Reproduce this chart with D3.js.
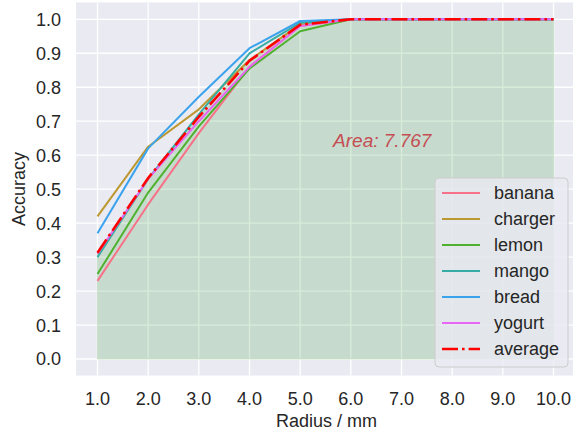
<!DOCTYPE html>
<html>
<head>
<meta charset="utf-8">
<script src="https://cdn.jsdelivr.net/npm/d3@7"></script>
<style>
  body { margin: 0; background: #ffffff; }
  svg { display: block; font-family: "Liberation Sans", Arial, sans-serif; }
</style>
</head>
<body>
<div id="chart"></div>
<script>
// values
const radius = [1, 2, 3, 4, 5, 6, 7, 8, 9, 10];
const banana  = [0.23, 0.455, 0.665, 0.86, 0.98, 1, 1, 1, 1, 1];
const charger = [0.42, 0.625, 0.735, 0.88, 0.985, 1, 1, 1, 1, 1];
const lemon   = [0.25, 0.49, 0.685, 0.855, 0.965, 1, 1, 1, 1, 1];
const mango   = [0.30, 0.53, 0.72, 0.90, 0.99, 1, 1, 1, 1, 1];
const bread   = [0.37, 0.62, 0.772, 0.915, 0.995, 1, 1, 1, 1, 1];
const yogurt  = [0.31, 0.53, 0.70, 0.86, 0.98, 1, 1, 1, 1, 1];
const average = [0.313, 0.533, 0.713, 0.878, 0.984, 1, 1, 1, 1, 1];
const seriesNames = ['banana', 'charger', 'lemon', 'mango', 'bread', 'yogurt'];
const seriesColors = ['#f77189', '#bb9832', '#50b131', '#36ada4', '#3ba3ec', '#e866f4'];
const xTicks = [1, 2, 3, 4, 5, 6, 7, 8, 9, 10];
const yTicks = [0, 0.1, 0.2, 0.3, 0.4, 0.5, 0.6, 0.7, 0.8, 0.9, 1.0];
const areaLabel = 'Area: 7.767';

const seriesValues = [banana, charger, lemon, mango, bread, yogurt];

const W = 573, H = 435;
const plot = {left: 76, right: 577, top: 2.5, bottom: 375.5};
const textColor = '#262626';
const fontSize = 18;

const svg = d3.select('#chart').append('svg')
    .attr('width', W)
    .attr('height', H);

const x = d3.scaleLinear().domain([1, 10]).range([97.5, 553.5]);
const y = d3.scaleLinear().domain([0, 1]).range([359, 19.3]);

// axes background
svg.append('rect')
    .attr('x', plot.left)
    .attr('y', plot.top)
    .attr('width', plot.right - plot.left)
    .attr('height', plot.bottom - plot.top)
    .attr('fill', '#eaeaf2');

// grid
const grid = svg.append('g').attr('stroke', '#ffffff').attr('stroke-width', 1.3);
grid.selectAll('.gx').data(xTicks).enter().append('line')
    .attr('x1', d => x(d)).attr('x2', d => x(d))
    .attr('y1', plot.top).attr('y2', plot.bottom);
grid.selectAll('.gy').data(yTicks).enter().append('line')
    .attr('x1', plot.left).attr('x2', plot.right)
    .attr('y1', d => y(d)).attr('y2', d => y(d));

// filled area under the average
const area = d3.area()
    .x((d, i) => x(radius[i]))
    .y0(y(0))
    .y1(d => y(d));
svg.append('path')
    .datum(average)
    .attr('d', area)
    .attr('fill', 'green')
    .attr('fill-opacity', 0.15)
    .attr('stroke', 'green')
    .attr('stroke-opacity', 0.15)
    .attr('stroke-width', 1);

// lines
const line = d3.line()
    .x((d, i) => x(radius[i]))
    .y(d => y(d));

seriesValues.forEach((vals, k) => {
  svg.append('path')
      .datum(vals)
      .attr('d', line)
      .attr('fill', 'none')
      .attr('stroke', seriesColors[k])
      .attr('stroke-width', 2)
      .attr('stroke-linejoin', 'round');
});

svg.append('path')
    .datum(average)
    .attr('d', line)
    .attr('fill', 'none')
    .attr('stroke', '#ff0000')
    .attr('stroke-width', 2.6)
    .attr('stroke-dasharray', '16,4,2.6,4');

// area text
svg.append('text')
    .attr('x', x(6.62))
    .attr('y', y(0.64))
    .attr('text-anchor', 'middle')
    .attr('dominant-baseline', 'middle')
    .attr('font-style', 'italic')
    .attr('font-size', 19)
    .attr('fill', '#c44e52')
    .text(areaLabel);

// tick labels
const fmt = d3.format('.1f');
svg.append('g').selectAll('text').data(xTicks).enter().append('text')
    .attr('x', d => x(d))
    .attr('y', 405)
    .attr('text-anchor', 'middle')
    .attr('font-size', fontSize)
    .attr('fill', textColor)
    .text(d => fmt(d));

svg.append('g').selectAll('text').data(yTicks).enter().append('text')
    .attr('x', 61)
    .attr('y', d => y(d))
    .attr('dy', '0.36em')
    .attr('text-anchor', 'end')
    .attr('font-size', fontSize)
    .attr('fill', textColor)
    .text(d => fmt(d));

// axis titles
svg.append('text')
    .attr('x', (plot.left + plot.right) / 2)
    .attr('y', 427)
    .attr('text-anchor', 'middle')
    .attr('font-size', fontSize)
    .attr('fill', textColor)
    .text('Radius / mm');

svg.append('text')
    .attr('transform', 'translate(25,' + ((plot.top + plot.bottom) / 2) + ') rotate(-90)')
    .attr('text-anchor', 'middle')
    .attr('font-size', fontSize)
    .attr('fill', textColor)
    .text('Accuracy');

// legend
const legend = svg.append('g');
legend.append('rect')
    .attr('x', 435).attr('y', 178)
    .attr('width', 133).attr('height', 189)
    .attr('rx', 4)
    .attr('fill', '#eaeaf2')
    .attr('fill-opacity', 0.8)
    .attr('stroke', '#cccccc')
    .attr('stroke-width', 1);

const legendItems = seriesNames.map((n, i) => ({name: n, color: seriesColors[i], avg: false}))
    .concat([{name: 'average', color: '#ff0000', avg: true}]);

const item = legend.selectAll('.item').data(legendItems).enter().append('g')
    .attr('transform', (d, i) => 'translate(0,' + (193 + i * 26) + ')');
item.append('line')
    .attr('x1', 442).attr('x2', 480)
    .attr('y1', 0).attr('y2', 0)
    .attr('stroke', d => d.color)
    .attr('stroke-width', d => d.avg ? 2.6 : 2)
    .attr('stroke-dasharray', d => d.avg ? '16,4,2.6,4' : null);
item.append('text')
    .attr('x', 494)
    .attr('y', 0)
    .attr('dy', '0.36em')
    .attr('font-size', fontSize)
    .attr('fill', textColor)
    .text(d => d.name);
</script>
</body>
</html>
